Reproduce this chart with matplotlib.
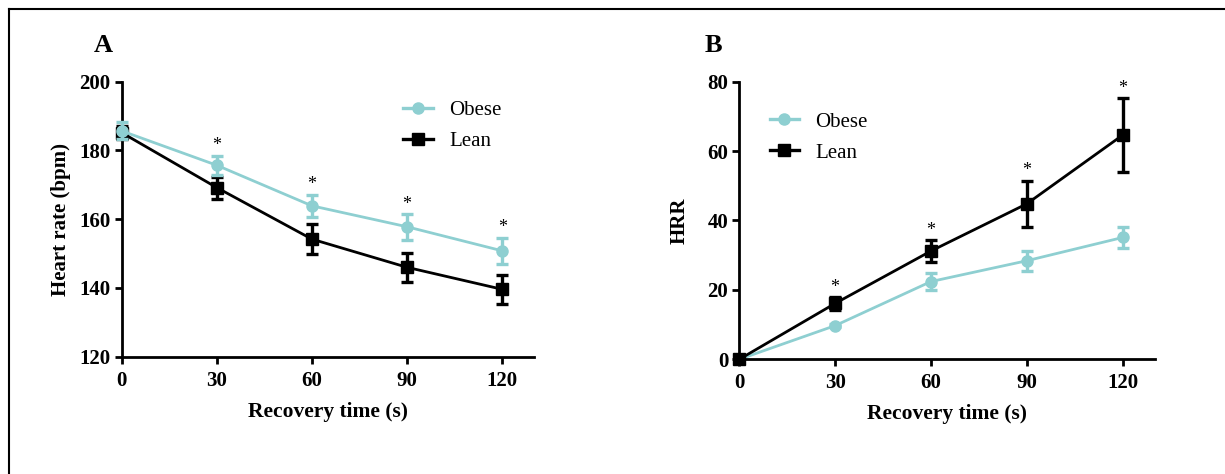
import matplotlib
matplotlib.use("Agg")
import matplotlib.pyplot as plt
from matplotlib.lines import Line2D

plt.rcParams['font.family'] = ['Liberation Serif', 'DejaVu Serif']

time = [0, 30, 60, 90, 120]
hr_obese = [185.7, 175.7, 163.9, 157.8, 150.8]
hr_obese_err = [2.5, 2.8, 3.2, 3.7, 3.8]
hr_lean = [185.2, 169.2, 154.2, 146.0, 139.6]
hr_lean_err = [2.0, 3.2, 4.3, 4.2, 4.3]
hrr_obese = [0.0, 9.7, 22.4, 28.4, 35.1]
hrr_obese_err = [0.3, 0.5, 2.5, 2.9, 2.9]
hrr_lean = [0.0, 16.1, 31.2, 44.8, 64.6]
hrr_lean_err = [0.3, 1.8, 3.1, 6.7, 10.7]
sig_A = [False, True, True, True, True]
sig_B = [False, True, True, True, True]
xticks = [0, 30, 60, 90, 120]
yticks_A = [120, 140, 160, 180, 200]
yticks_B = [0, 20, 40, 60, 80]

teal = '#8ecfd1'
black = '#000000'

fig = plt.figure(figsize=(12.25, 4.74), dpi=100)
axA = fig.add_axes([0.0993, 0.2475, 0.3366, 0.580])
axB = fig.add_axes([0.6035, 0.242, 0.339, 0.5857])

def style(ax, ylim, yticks, ylabel, ylabelpad):
    ax.set_xlim(0, 130)
    ax.set_ylim(*ylim)
    ax.set_xticks(xticks)
    ax.set_yticks(yticks)
    for s in ['top', 'right']:
        ax.spines[s].set_visible(False)
    for s in ['left', 'bottom']:
        ax.spines[s].set_linewidth(2.0)
    ax.tick_params(direction='out', length=5, width=2.0, labelsize=15)
    ax.tick_params(axis='x', pad=5)
    ax.tick_params(axis='y', pad=3)
    for lbl in ax.get_xticklabels() + ax.get_yticklabels():
        lbl.set_fontweight('bold')
    ax.set_xlabel('Recovery time (s)', fontsize=15.5, fontweight='bold', labelpad=8)
    ax.set_ylabel(ylabel, fontsize=15, fontweight='bold', labelpad=ylabelpad)

def draw(ax, yo, eo, yl, el, obese_on_top):
    kw = dict(elinewidth=2.4, capsize=4.5, capthick=2.4, linewidth=2.0, clip_on=False)
    ax.errorbar(time, yl, yerr=el, color=black, marker='s', markersize=8, zorder=3, **kw)
    ax.errorbar(time, yo, yerr=eo, color=teal, marker='o', markersize=8,
                zorder=4 if obese_on_top else 2, **kw)

style(axA, (120, 200), yticks_A, 'Heart rate (bpm)', 6)
draw(axA, hr_obese, hr_obese_err, hr_lean, hr_lean_err, obese_on_top=True)
for t, v, e, s in zip(time, hr_obese, hr_obese_err, sig_A):
    if s:
        axA.annotate('*', (t, v + e), xytext=(0, 1), textcoords='offset points',
                     ha='center', va='bottom', fontsize=13)

style(axB, (0, 80), yticks_B, 'HRR', 13)
draw(axB, hrr_obese, hrr_obese_err, hrr_lean, hrr_lean_err, obese_on_top=False)
for t, v, e, s in zip(time, hrr_lean, hrr_lean_err, sig_B):
    if s:
        axB.annotate('*', (t, v + e), xytext=(0, 1), textcoords='offset points',
                     ha='center', va='bottom', fontsize=13)

handles = [Line2D([], [], color=teal, marker='o', markersize=8, linewidth=2.4),
           Line2D([], [], color=black, marker='s', markersize=8, linewidth=2.4)]
labels = ['Obese', 'Lean']
for ax, anchor in [(axA, (0.648, 0.984)), (axB, (0.038, 0.943))]:
    ax.legend(handles, labels, loc='upper left',
              bbox_to_anchor=anchor, frameon=False, fontsize=15, handlelength=1.4,
              handletextpad=0.8, labelspacing=0.55, borderpad=0.2)

fig.text(103 / 1225, 1 - 46 / 474, 'A', fontsize=19, fontweight='bold', ha='center', va='center')
fig.text(713 / 1225, 1 - 46 / 474, 'B', fontsize=19, fontweight='bold', ha='center', va='center')

fig.add_artist(Line2D([9 / 1225, 1.0], [1 - 9 / 474, 1 - 9 / 474], transform=fig.transFigure, color='black', linewidth=1.5))
fig.add_artist(Line2D([9 / 1225, 9 / 1225], [1 - 9 / 474, 0.0], transform=fig.transFigure, color='black', linewidth=1.5))

fig.savefig('out.png', dpi=100)
